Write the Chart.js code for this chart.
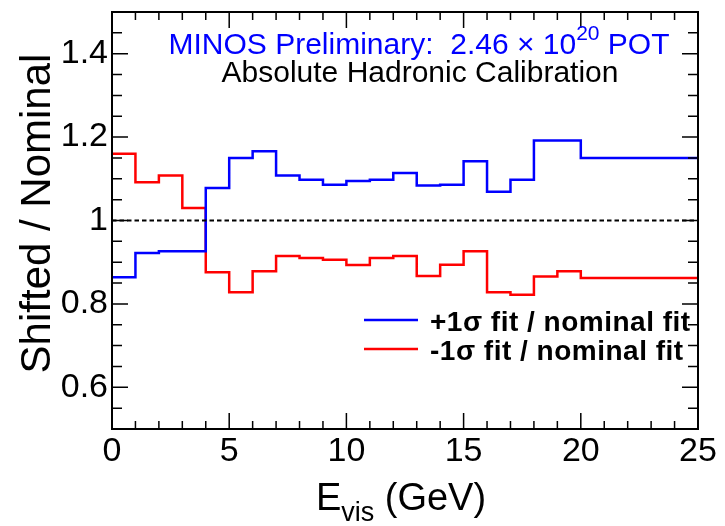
<!DOCTYPE html>
<html>
<head>
<meta charset="utf-8">
<title>Absolute Hadronic Calibration</title>
<script src="https://cdn.jsdelivr.net/npm/chart.js@4.4.1/dist/chart.umd.min.js"></script>
<style>
    html, body { margin: 0; padding: 0; background: #fff; }
    #wrap { width: 725px; height: 526px; }
</style>
</head>
<body>
<div id="wrap"><canvas id="ratioChart" width="725" height="526"></canvas></div>
<script>
// Bin low edges in GeV, last entry closes the wide 20-25 bin
const binEdges = [0, 1, 2, 3, 4, 5, 6, 7, 8, 9, 10, 11, 12, 13, 14, 15, 16, 17, 18, 19, 20, 25];

// shifted / nominal ratio per bin
const plusSigma = [0.864, 0.922, 0.926, 0.926, 1.078, 1.150, 1.166, 1.108, 1.098, 1.086, 1.095,
                   1.098, 1.114, 1.084, 1.086, 1.142, 1.069, 1.098, 1.192, 1.192, 1.150];
const minusSigma = [1.160, 1.092, 1.108, 1.030, 0.876, 0.828, 0.878, 0.915, 0.910, 0.906, 0.893,
                    0.910, 0.915, 0.867, 0.894, 0.926, 0.828, 0.822, 0.866, 0.878, 0.862];

const xTickValues = [0, 5, 10, 15, 20, 25];
const yTickValues = [0.6, 0.8, 1.0, 1.2, 1.4];
const referenceLine = [1, 1];

const FONT = 'Liberation Sans, Arial, Helvetica, sans-serif';
const BLUE = '#0000ff';
const RED = '#ff0000';

// histogram -> step points (repeat last value at the upper edge)
function toSteps(values) {
    const pts = values.map((v, i) => ({ x: binEdges[i], y: v }));
    pts.push({ x: binEdges[binEdges.length - 1], y: values[values.length - 1] });
    return pts;
}

// ROOT-like frame: box, inward ticks, texts, legend
const rootFramePlugin = {
    id: 'rootFrame',
    afterDatasetsDraw(chart) {
        const { ctx, chartArea: a, scales: { x, y } } = chart;
        ctx.save();
        ctx.strokeStyle = '#000';
        ctx.lineWidth = 2;
        ctx.strokeRect(a.left, a.top, a.right - a.left, a.bottom - a.top);

        ctx.lineWidth = 1.5;
        ctx.beginPath();
        for (let v = 0; v <= 25; v += 1) {
            const px = x.getPixelForValue(v);
            const len = v % 5 === 0 ? 16 : 8;
            ctx.moveTo(px, a.bottom); ctx.lineTo(px, a.bottom - len);
            ctx.moveTo(px, a.top); ctx.lineTo(px, a.top + len);
        }
        for (let k = 10; k <= 30; k++) {
            const v = k * 0.05;
            const px = y.getPixelForValue(v);
            const major = k % 4 === 0;
            const len = major ? 16 : 10;
            ctx.moveTo(a.left, px); ctx.lineTo(a.left + len, px);
            ctx.moveTo(a.right, px); ctx.lineTo(a.right - len, px);
        }
        ctx.stroke();

        // header lines
        const cx = (a.left + a.right) / 2 + 14;
        ctx.fillStyle = BLUE;
        ctx.textBaseline = 'alphabetic';
        const big = '30px ' + FONT, sup = '21px ' + FONT;
        const p1 = 'MINOS Preliminary:  2.46 \u00d7 10', p2 = '20', p3 = ' POT';
        ctx.font = big;
        const w1 = ctx.measureText(p1).width, w3 = ctx.measureText(p3).width;
        ctx.font = sup;
        const w2 = ctx.measureText(p2).width;
        let sx = cx - (w1 + w2 + w3) / 2;
        ctx.font = big; ctx.textAlign = 'left';
        ctx.fillText(p1, sx, a.top + 42);
        ctx.font = sup;
        ctx.fillText(p2, sx + w1, a.top + 28);
        ctx.font = big;
        ctx.fillText(p3, sx + w1 + w2, a.top + 42);

        ctx.fillStyle = '#000';
        ctx.textAlign = 'center';
        ctx.fillText('Absolute Hadronic Calibration', cx + 1, a.top + 70);

        // legend
        const lx = a.left + 252;
        chart.data.datasets.filter(d => d.showInLegend).forEach((d, i) => {
            const ly = a.top + 308 + i * 29;
            ctx.strokeStyle = d.borderColor;
            ctx.lineWidth = 2.5;
            ctx.beginPath();
            ctx.moveTo(lx, ly); ctx.lineTo(lx + 54, ly);
            ctx.stroke();
            ctx.fillStyle = '#000';
            ctx.font = 'bold 28px ' + FONT;
            ctx.letterSpacing = '0.5px';
            ctx.textAlign = 'left';
            ctx.textBaseline = 'middle';
            ctx.fillText(d.label, lx + 66, ly + 3);
            ctx.letterSpacing = '0px';
        });

        // y title
        ctx.save();
        ctx.translate(50, (a.top + a.bottom) / 2 - 7);
        ctx.rotate(-Math.PI / 2);
        ctx.font = '42px ' + FONT;
        ctx.textAlign = 'center';
        ctx.textBaseline = 'alphabetic';
        ctx.fillStyle = '#000';
        ctx.fillText('Shifted / Nominal', 0, 0);
        ctx.restore();

        // x title with subscript
        const tBig = '38px ' + FONT, tSub = '27px ' + FONT;
        ctx.font = tBig; const we = ctx.measureText('E').width;
        const wr = ctx.measureText(' (GeV)').width;
        ctx.font = tSub; const wv = ctx.measureText('vis').width;
        let tx = (a.left + a.right) / 2 - 4 - (we + wv + wr) / 2;
        ctx.textAlign = 'left';
        ctx.textBaseline = 'alphabetic';
        ctx.fillStyle = '#000';
        ctx.font = tBig; ctx.fillText('E', tx, a.bottom + 81);
        ctx.font = tSub; ctx.fillText('vis', tx + we, a.bottom + 92);
        ctx.font = tBig; ctx.fillText(' (GeV)', tx + we + wv, a.bottom + 81);
        ctx.restore();
    }
};

// drop the label overhang padding so the frame sits where the layout says
function noPad(s) {
    s.paddingTop = 0; s.paddingBottom = 0;
    s.paddingLeft = 0; s.paddingRight = 0;
}

const ctx = document.getElementById('ratioChart').getContext('2d');
const chart = new Chart(ctx, {
    type: 'line',
    data: {
        datasets: [
            {
                label: 'nominal',
                data: referenceLine.map((v, i) => ({ x: i === 0 ? 0 : 25, y: v })),
                borderColor: '#000',
                borderWidth: 2.2,
                borderDash: [4.5, 3],
                pointRadius: 0
            },
            {
                label: '+1\u03c3 fit / nominal fit',
                data: toSteps(plusSigma),
                borderColor: BLUE,
                borderWidth: 2.5,
                stepped: 'before',
                pointRadius: 0,
                showInLegend: true
            },
            {
                label: '-1\u03c3 fit / nominal fit',
                data: toSteps(minusSigma),
                borderColor: RED,
                borderWidth: 2.5,
                stepped: 'before',
                pointRadius: 0,
                showInLegend: true
            }
        ]
    },
    options: {
        responsive: false,
        devicePixelRatio: 1,
        animation: false,
        layout: { padding: { top: 12, right: 27, left: 0, bottom: 0 } },
        plugins: {
            legend: { display: false },
            tooltip: { enabled: false }
        },
        scales: {
            x: {
                type: 'linear',
                min: 0,
                max: 25,
                afterBuildTicks: s => { s.ticks = xTickValues.map(v => ({ value: v })); },
                afterFit: s => { s.height = 97; noPad(s); },
                grid: { display: false, drawTicks: false },
                border: { display: false },
                ticks: {
                    color: '#000',
                    padding: 2,
                    maxRotation: 0,
                    autoSkip: false,
                    font: { family: FONT, size: 34 }
                }
            },
            y: {
                min: 0.5,
                max: 1.5,
                afterBuildTicks: s => { s.ticks = yTickValues.map(v => ({ value: v })); },
                afterFit: s => { s.width = 112; noPad(s); },
                grid: { display: false, drawTicks: false },
                border: { display: false },
                ticks: {
                    color: '#000',
                    padding: 4,
                    font: { family: FONT, size: 34 },
                    callback: v => String(+v.toFixed(2))
                }
            }
        }
    },
    plugins: [rootFramePlugin]
});
</script>
</body>
</html>
